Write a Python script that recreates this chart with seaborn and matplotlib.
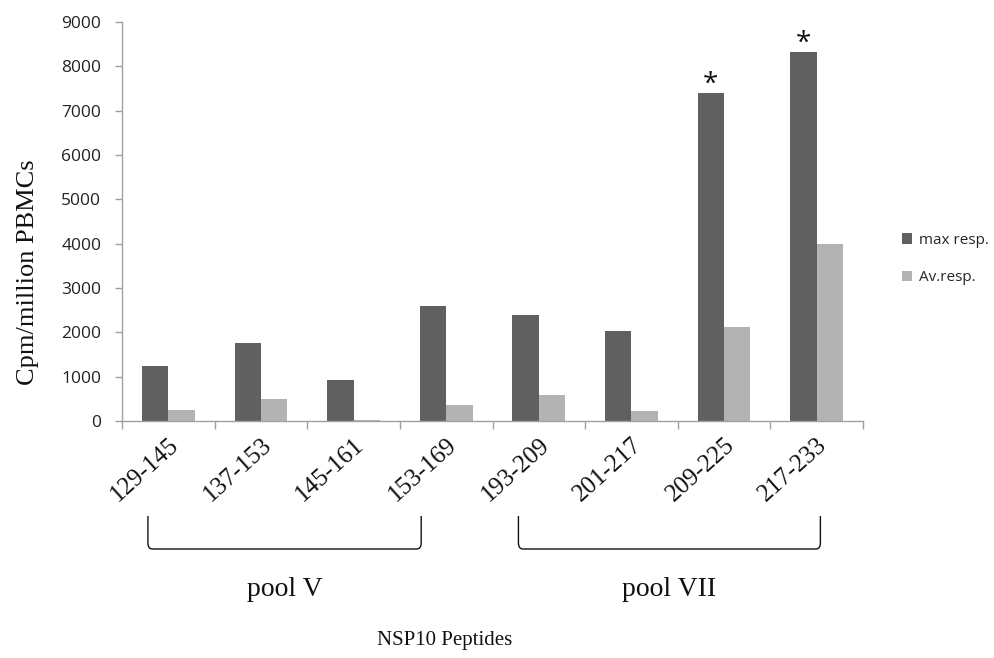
import matplotlib
matplotlib.use("Agg")
import matplotlib.pyplot as plt
import matplotlib.transforms as mtransforms
from matplotlib.path import Path
from matplotlib.patches import PathPatch
import seaborn as sns
import pandas as pd

peptides = ["129-145", "137-153", "145-161", "153-169",
            "193-209", "201-217", "209-225", "217-233"]
max_resp = [1240, 1750, 925, 2600, 2400, 2030, 7390, 8320]
av_resp = [250, 500, 20, 365, 595, 235, 2130, 3995]
series_names = ["max resp.", "Av.resp."]
significant = ["209-225", "217-233"]
pools = [("pool V", "129-145", "153-169"), ("pool VII", "193-209", "217-233")]

df = pd.DataFrame({
    "peptide": peptides * 2,
    "value": max_resp + av_resp,
    "series": [series_names[0]] * len(peptides) + [series_names[1]] * len(peptides),
})

sns.set_theme(style="white")
serif = ["Liberation Serif", "DejaVu Serif"]
sans = ["Open Sans", "DejaVu Sans"]

fig = plt.figure(figsize=(9.94, 6.58), dpi=100)
ax = fig.add_axes([122/994, 1-421/658, (863-122)/994, (421-22)/658])

sns.barplot(data=df, x="peptide", y="value", hue="series", order=peptides,
            hue_order=series_names, palette=["#606060", "#b3b3b3"],
            width=0.57, saturation=1, ax=ax, legend=True, linewidth=0)

ax.set_ylim(0, 9000)
ax.set_xlim(-0.5, len(peptides) - 0.5)
ax.set_yticks(range(0, 9001, 1000))
ax.set_yticklabels([str(v) for v in range(0, 9001, 1000)], fontfamily=sans,
                   fontsize=12.5, color="#222222")
ax.set_xticks(range(len(peptides)))
ax.set_xticklabels(peptides, rotation=42, ha="right", rotation_mode="anchor",
                   fontfamily=serif, fontsize=18, color="#111111")
ax.set_xticks([i - 0.5 for i in range(len(peptides) + 1)], minor=True)
ax.tick_params(axis="x", which="major", length=0, pad=9)
ax.tick_params(axis="x", which="minor", length=6, color="#a0a0a0", width=1, bottom=True)
ax.tick_params(axis="y", which="major", length=5, color="#a0a0a0", width=1, left=True, pad=10)

for s in ["top", "right"]:
    ax.spines[s].set_visible(False)
for s in ["left", "bottom"]:
    ax.spines[s].set_color("#a0a0a0")
    ax.spines[s].set_linewidth(1)

ax.set_xlabel("")
ax.set_ylabel("Cpm/million PBMCs", fontfamily=serif, fontsize=19, color="#111111")
ax.yaxis.set_label_coords(-0.112, 0.373)

# asterisks
dodge = 0.57 / 4
for p in significant:
    i = peptides.index(p)
    ax.text(i - dodge, max_resp[i] - 120, "*", ha="center", va="bottom",
            fontsize=20, color="#111111", fontfamily=sans)

# legend
handles, labels = ax.get_legend_handles_labels()
ax.legend(handles, labels, loc="center left", bbox_to_anchor=(888/994, 1-259/658),
          bbox_transform=fig.transFigure, frameon=False, handlelength=0.7,
          handleheight=0.7, handletextpad=0.4, labelspacing=1.5,
          prop={"family": sans, "size": 11})

# pool brackets
trans = mtransforms.blended_transform_factory(ax.transData, fig.transFigure)
y_top = 1 - 516/658
y_bot = 1 - 549/658
r = 6/658
for name, a, b in pools:
    ia, ib = peptides.index(a), peptides.index(b)
    x0 = ia - 0.22
    x1 = ib - 0.27 if name == "pool V" else ib + 0.04
    dx = 0.05
    verts = [(x0, y_top), (x0, y_bot + r), (x0, y_bot), (x0 + dx, y_bot),
             (x1 - dx, y_bot), (x1, y_bot), (x1, y_bot + r), (x1, y_top)]
    codes = [Path.MOVETO, Path.LINETO, Path.CURVE3, Path.CURVE3,
             Path.LINETO, Path.CURVE3, Path.CURVE3, Path.LINETO]
    patch = PathPatch(Path(verts, codes), transform=trans, fill=False,
                      edgecolor="#111111", linewidth=1, clip_on=False)
    ax.add_patch(patch)
    ax.text((x0 + x1) / 2, 1 - 590/658, name, transform=trans, ha="center",
            va="center", fontfamily=serif, fontsize=20, color="#111111")

fig.text(445/994, 1 - 641/658, "NSP10 Peptides", ha="center", va="center",
         fontfamily=serif, fontsize=15, color="#111111")

fig.savefig("out.png", dpi=100)
